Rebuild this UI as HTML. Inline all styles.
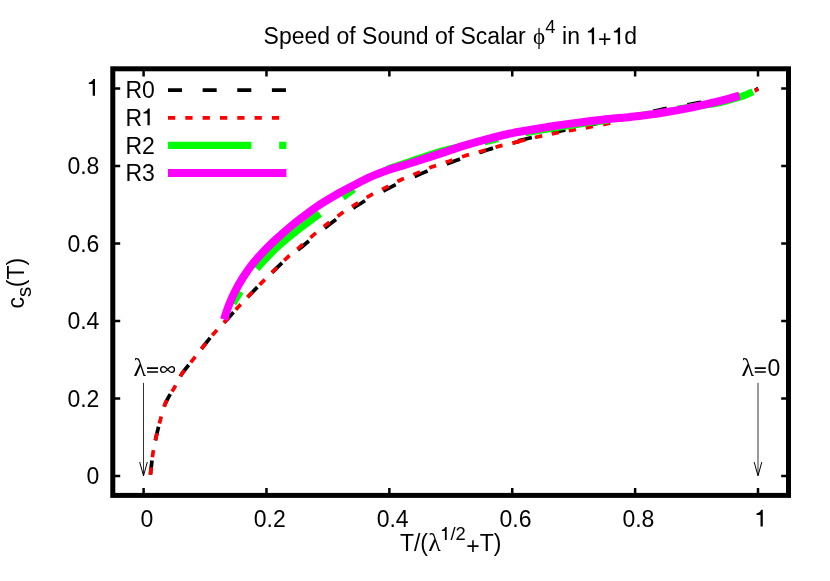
<!DOCTYPE html>
<html><head><meta charset="utf-8"><title>Speed of Sound</title>
<style>html,body{margin:0;padding:0;background:#fff;width:830px;height:581px;overflow:hidden;}svg{display:block;will-change:transform;}</style></head>
<body>
<svg width="830" height="581" viewBox="0 0 830 581">
<rect width="830" height="581" fill="#fff"/>
<g stroke="#000" stroke-width="2.5" fill="none">
<path d="M143.60,495.3V488.1M143.60,68.8V76.6"/>
<path d="M113,476.10H120.2M788.5,476.10H781.2"/>
<path d="M266.48,495.3V488.1M266.48,68.8V76.6"/>
<path d="M113,398.58H120.2M788.5,398.58H781.2"/>
<path d="M389.36,495.3V488.1M389.36,68.8V76.6"/>
<path d="M113,321.06H120.2M788.5,321.06H781.2"/>
<path d="M512.24,495.3V488.1M512.24,68.8V76.6"/>
<path d="M113,243.54H120.2M788.5,243.54H781.2"/>
<path d="M635.12,495.3V488.1M635.12,68.8V76.6"/>
<path d="M113,166.02H120.2M788.5,166.02H781.2"/>
<path d="M758.00,495.3V488.1M758.00,68.8V76.6"/>
<path d="M113,88.50H120.2M788.5,88.50H781.2"/>
</g>
<g fill="none" stroke-linecap="butt" stroke-linejoin="round">
<path d="M150.40,474.60 C151.23,467.67 151.93,460.12 152.90,453.80 C153.87,447.48 155.02,442.12 156.20,436.70 C157.38,431.28 158.57,426.62 160.00,421.30 C161.43,415.98 163.20,409.12 164.80,404.80 C166.40,400.48 168.03,398.20 169.60,395.40 C171.17,392.60 172.17,391.57 174.20,388.00 C176.23,384.43 178.67,378.73 181.80,374.00 C184.93,369.27 189.43,364.17 193.00,359.60 C196.57,355.03 199.77,350.92 203.20,346.60 C206.63,342.28 209.95,337.87 213.60,333.70 C217.25,329.53 221.00,326.03 225.10,321.60 C229.20,317.17 234.07,311.57 238.20,307.10 C242.33,302.63 245.93,298.92 249.90,294.80 C253.87,290.68 257.98,286.42 262.00,282.40 C266.02,278.38 269.93,274.63 274.00,270.70 C278.07,266.77 282.13,262.47 286.40,258.79 C290.67,255.11 295.12,252.17 299.60,248.60 C304.08,245.04 308.82,241.03 313.30,237.40 C317.78,233.77 321.98,230.28 326.50,226.80 C331.02,223.32 335.68,219.78 340.40,216.50 C345.12,213.22 349.93,210.17 354.80,207.10 C359.67,204.03 364.55,200.93 369.60,198.10 C374.65,195.27 379.97,192.73 385.10,190.10 C390.23,187.47 395.18,184.70 400.40,182.30 C405.62,179.90 411.07,177.92 416.40,175.70 C421.73,173.48 427.05,171.05 432.40,169.00 C437.75,166.95 443.02,165.37 448.50,163.37 C453.98,161.38 459.78,158.94 465.30,157.03 C470.82,155.12 476.08,153.67 481.60,151.91 C487.12,150.14 493.35,147.91 498.40,146.46 C503.45,145.01 508.43,144.04 511.90,143.20 C515.37,142.36 516.77,142.00 519.20,141.40 M518.00,140.90 C524.67,139.27 531.78,137.50 538.00,136.00 C544.22,134.50 549.60,133.15 555.30,131.90 C561.00,130.65 566.53,129.65 572.20,128.50 C577.87,127.35 583.58,126.18 589.30,125.00 C595.02,123.82 599.72,122.70 606.50,121.40 C613.28,120.10 621.08,119.15 630.00,117.20 C638.92,115.25 649.33,111.97 660.00,109.70 C670.67,107.43 684.12,105.30 694.00,103.60 C703.88,101.90 711.72,100.97 719.30,99.50 C726.88,98.03 733.88,96.22 739.50,94.80 C745.12,93.38 749.87,92.05 753.00,91.00 C756.13,89.95 756.53,89.33 758.30,88.50" stroke="#000" stroke-width="3.7" stroke-dasharray="14.05 20.58"/>
<path d="M150.40,474.60 C151.23,467.67 151.93,460.12 152.90,453.80 C153.87,447.48 155.02,442.12 156.20,436.70 C157.38,431.28 158.57,426.62 160.00,421.30 C161.43,415.98 163.20,409.12 164.80,404.80 C166.40,400.48 168.03,398.20 169.60,395.40 C171.17,392.60 172.17,391.57 174.20,388.00 C176.23,384.43 178.67,378.73 181.80,374.00 C184.93,369.27 189.43,364.17 193.00,359.60 C196.57,355.03 199.77,350.92 203.20,346.60 C206.63,342.28 209.95,337.87 213.60,333.70 C217.25,329.53 221.00,326.03 225.10,321.60 C229.20,317.17 234.07,311.57 238.20,307.10 C242.33,302.63 245.93,298.92 249.90,294.80 C253.87,290.68 257.98,286.42 262.00,282.40 C266.02,278.38 269.93,274.72 274.00,270.70 C278.07,266.68 282.13,262.23 286.40,258.30 C290.67,254.37 295.12,250.97 299.60,247.10 C304.08,243.23 308.82,238.87 313.30,235.10 C317.78,231.33 321.98,227.98 326.50,224.50 C331.02,221.02 335.68,217.48 340.40,214.20 C345.12,210.92 349.93,207.87 354.80,204.80 C359.67,201.73 364.55,198.63 369.60,195.80 C374.65,192.97 379.97,190.43 385.10,187.80 C390.23,185.17 395.18,182.40 400.40,180.00 C405.62,177.60 411.07,175.62 416.40,173.40 C421.73,171.18 427.05,168.70 432.40,166.70 C437.75,164.70 443.02,163.23 448.50,161.40 C453.98,159.57 459.78,157.40 465.30,155.70 C470.82,154.00 476.08,152.75 481.60,151.20 C487.12,149.65 493.35,147.73 498.40,146.40 C503.45,145.07 508.43,144.03 511.90,143.20 C515.37,142.37 516.77,142.00 519.20,141.40 M518.00,141.60 C524.67,140.00 531.78,138.20 538.00,136.80 C544.22,135.40 549.60,134.30 555.30,133.20 C561.00,132.10 566.53,131.20 572.20,130.20 C577.87,129.20 583.58,128.23 589.30,127.20 C595.02,126.17 601.72,125.07 606.50,124.00 C611.28,122.93 614.08,121.80 618.00,120.80 C621.92,119.80 621.63,119.30 630.00,118.00 C638.37,116.70 657.82,114.62 668.20,113.00 C678.58,111.38 683.78,110.13 692.30,108.30 C700.82,106.47 711.43,103.97 719.30,102.00 C727.17,100.03 733.88,98.20 739.50,96.50 C745.12,94.80 749.87,93.08 753.00,91.80 C756.13,90.52 756.53,89.80 758.30,88.80" stroke="#f00" stroke-width="3.7" stroke-dasharray="7.25 10.07"/>
<path d="M233.00,303.40 C234.23,301.40 235.43,299.37 236.70,297.40 C237.97,295.43 238.78,294.40 240.60,291.60 C242.42,288.80 244.98,284.33 247.60,280.60 C250.22,276.87 253.73,272.35 256.30,269.20 C258.87,266.05 259.58,265.28 263.00,261.70 C266.42,258.12 272.17,252.03 276.80,247.70 C281.43,243.37 286.13,239.52 290.80,235.70 C295.47,231.88 300.27,228.25 304.80,224.80 C309.33,221.35 313.80,218.05 318.00,215.00 C322.20,211.95 325.17,209.97 330.00,206.50 C334.83,203.03 342.00,197.78 347.00,194.20 C352.00,190.62 355.83,187.77 360.00,185.00 C364.17,182.23 367.33,180.23 372.00,177.60 C376.67,174.97 384.32,170.97 388.00,169.20 C391.68,167.43 389.07,168.75 394.10,167.00 C399.13,165.25 410.17,161.37 418.20,158.70 C426.23,156.03 434.65,153.12 442.30,151.00 C449.95,148.88 456.45,147.67 464.10,146.00 C471.75,144.33 480.17,142.80 488.20,141.00 C496.23,139.20 503.67,137.00 512.30,135.20 C520.93,133.40 529.02,132.03 540.00,130.20 C550.98,128.37 567.82,125.73 578.20,124.20 C588.58,122.67 593.67,122.15 602.30,121.00 C610.93,119.85 619.02,119.00 630.00,117.30 C640.98,115.60 657.82,112.57 668.20,110.80 C678.58,109.03 683.78,108.07 692.30,106.70 C700.82,105.33 711.43,104.22 719.30,102.60 C727.17,100.98 734.88,98.37 739.50,97.00 C744.12,95.63 744.75,95.28 747.00,94.40 C749.25,93.52 751.00,92.60 753.00,91.70" stroke="#0f0" stroke-width="7.2" stroke-dasharray="14 28 84 28"/>
<path d="M224.00,319.50 C225.63,314.70 227.05,309.80 228.90,305.10 C230.75,300.40 232.75,295.90 235.10,291.30 C237.45,286.70 240.07,282.08 243.00,277.50 C245.93,272.92 249.03,268.38 252.70,263.80 C256.37,259.22 260.87,254.30 265.00,250.00 C269.13,245.70 273.12,242.00 277.50,238.00 C281.88,234.00 287.18,229.42 291.30,226.00 C295.42,222.58 297.52,221.02 302.20,217.50 C306.88,213.98 313.65,208.75 319.40,204.90 C325.15,201.05 330.95,197.67 336.70,194.40 C342.45,191.13 348.45,188.15 353.90,185.30 C359.35,182.45 363.93,179.77 369.40,177.30 C374.87,174.83 380.95,172.52 386.70,170.50 C392.45,168.48 398.65,166.83 403.90,165.20 C409.15,163.57 411.80,162.75 418.20,160.70 C424.60,158.65 434.65,155.42 442.30,152.90 C449.95,150.38 456.45,147.95 464.10,145.60 C471.75,143.25 480.17,140.88 488.20,138.80 C496.23,136.72 503.67,134.85 512.30,133.10 C520.93,131.35 533.03,129.48 540.00,128.30 C546.97,127.12 547.73,126.95 554.10,126.00 C560.47,125.05 570.17,123.65 578.20,122.60 C586.23,121.55 593.67,120.63 602.30,119.70 C610.93,118.77 623.03,117.72 630.00,117.00 C636.97,116.28 637.73,116.28 644.10,115.40 C650.47,114.52 660.17,113.05 668.20,111.70 C676.23,110.35 683.78,109.05 692.30,107.30 C700.82,105.55 711.43,103.15 719.30,101.20 C727.17,99.25 732.77,97.47 739.50,95.60" stroke="#f0f" stroke-width="8"/>
</g>
<g fill="none">
<path d="M168,90.1H286.4" stroke="#000" stroke-width="3.7" stroke-dasharray="14.05 20.58"/>
<path d="M168,117.8H286.4" stroke="#f00" stroke-width="3.7" stroke-dasharray="7.25 10.07"/>
<path d="M168,145.4H251.4M279.2,145.4H286.4" stroke="#0f0" stroke-width="7.2"/>
<path d="M168,173.1H286.4" stroke="#f0f" stroke-width="8"/>
</g>
<rect x="112.8" y="68.8" width="675.7" height="426.6" fill="none" stroke="#000" stroke-width="5"/>
<g stroke="#000" fill="none">
<path d="M143.50,382.9V475.3" stroke-width="0.8"/><path d="M139.70,462.1L143.50,475.8L147.30,462.1" stroke-width="1"/>
<path d="M758.00,382.9V475.3" stroke-width="0.8"/><path d="M754.20,462.1L758.00,475.8L761.80,462.1" stroke-width="1"/>
</g>
<g font-family="'Liberation Sans', sans-serif" font-size="23" fill="#000">
<text x="125.4" y="97.90">R0</text>
<text x="125.4" y="125.60">R</text>
<text x="125.4" y="153.90">R2</text>
<text x="125.4" y="181.00">R3</text>
<path d="M148.05,108.50H149.75V125.30H147.45V113.60H143.55V111.90C145.35,111.80 147.35,110.70 148.05,108.50Z" fill="#000"/>
<text x="99.4" y="484.00" text-anchor="end">0</text>
<text x="99.4" y="407.00" text-anchor="end">0.2</text>
<text x="99.4" y="329.00" text-anchor="end">0.4</text>
<text x="99.4" y="252.00" text-anchor="end">0.6</text>
<text x="99.4" y="174.00" text-anchor="end">0.8</text>
<path d="M93.30,79.00H95.00V95.80H92.70V84.10H88.80V82.40C90.60,82.30 92.60,81.20 93.30,79.00Z" fill="#000"/>
<text x="146.90" y="526.5" text-anchor="middle">0</text>
<text x="269.78" y="526.5" text-anchor="middle">0.2</text>
<text x="392.66" y="526.5" text-anchor="middle">0.4</text>
<text x="515.54" y="526.5" text-anchor="middle">0.6</text>
<text x="638.42" y="526.5" text-anchor="middle">0.8</text>
<path d="M761.10,509.80H762.80V526.60H760.50V514.90H756.60V513.20C758.40,513.10 760.40,512.00 761.10,509.80Z" fill="#000"/>
<text x="263.6" y="44.1">Speed of Sound of Scalar <tspan dx="0.9" font-family="'Liberation Serif', serif">ϕ</tspan><tspan font-size="18.4" dy="-11">4</tspan><tspan dy="11" dx="0.3"> in</tspan></text>
<path d="M592.40,27.50H594.10V44.30H591.80V32.60H587.90V30.90C589.70,30.80 591.70,29.70 592.40,27.50Z" fill="#000"/>
<path d="M618.40,27.50H620.10V44.30H617.80V32.60H613.90V30.90C615.70,30.80 617.70,29.70 618.40,27.50Z" fill="#000"/>
<text x="598.1" y="47.1">+</text>
<text x="624.3" y="44.1">d</text>
<text x="399.9" y="551.1">T/(</text>
<text x="428.3" y="551.3" font-family="'Liberation Serif', serif" font-size="26">λ</text>
<path d="M445.37,527.00H446.70V540.10H444.91V530.97H441.86V529.65C443.27,529.57 444.83,528.71 445.37,527.00Z" fill="#000"/>
<text x="450.5" y="540.4" font-size="18.4">/2</text>
<text x="466.3" y="551.1"><tspan dy="3.3">+</tspan><tspan dy="-3.3">T)</tspan></text>
<text transform="translate(24.0,308.4) rotate(-90)">c<tspan font-size="20.5" dy="7.2">s</tspan><tspan dy="-7.2" dx="-0.6">(T)</tspan></text>
<text x="133.6" y="375.6"><tspan font-family="'Liberation Serif', serif" font-size="26">λ</tspan></text>
<path d="M147.05,368.1H158.00M147.05,372H158.00" stroke="#000" stroke-width="1.7" fill="none"/>
<path d="M167.55,369.50 C169.07,367.99 170.03,366.60 171.55,366.60 C173.35,366.60 174.45,367.90 174.45,369.50 C174.45,371.10 173.35,372.40 171.55,372.40 C170.03,372.40 169.07,371.01 167.55,369.50 C166.03,367.99 165.07,366.60 163.55,366.60 C161.75,366.60 160.65,367.90 160.65,369.50 C160.65,371.10 161.75,372.40 163.55,372.40 C165.07,372.40 166.03,371.01 167.55,369.50" stroke="#000" stroke-width="1.35" fill="none"/>
<text x="741.4" y="375.6"><tspan font-family="'Liberation Serif', serif" font-size="26">λ</tspan></text>
<path d="M754.75,368.1H765.80M754.75,372H765.80" stroke="#000" stroke-width="1.7" fill="none"/>
<text x="767.5" y="375.8">0</text>
</g>
</svg>
</body></html>
